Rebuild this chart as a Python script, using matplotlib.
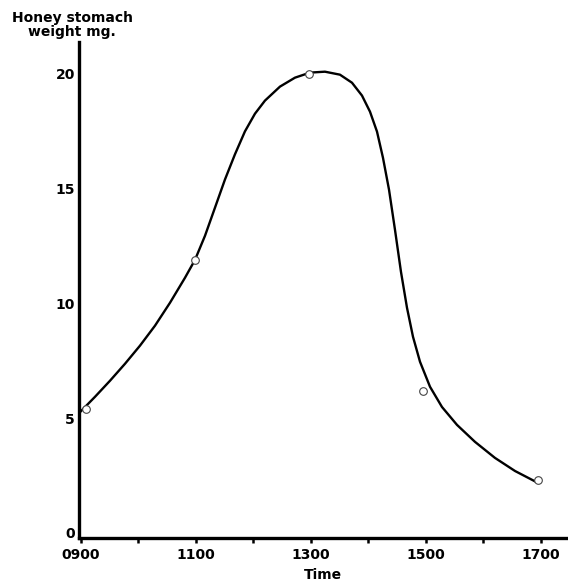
import matplotlib.pyplot as plt

# observed points (time in hours, honey stomach weight in mg)
obs_time = [9.08, 10.98, 12.97, 14.95, 16.95]
obs_weight = [5.4, 11.9, 20.0, 6.2, 2.3]

# hand drawn curve
curve_time = [8.97, 9.243, 9.504, 9.765, 10.026, 10.287, 10.548, 10.809, 10.983,
              11.157, 11.33, 11.504, 11.678, 11.852, 12.026, 12.2, 12.461, 12.722,
              12.983, 13.243, 13.504, 13.713, 13.887, 14.026, 14.148, 14.252, 14.357,
              14.461, 14.565, 14.67, 14.774, 14.896, 15.07, 15.278, 15.539, 15.852,
              16.2, 16.548, 16.948]
curve_weight = [5.23, 5.93, 6.63, 7.37, 8.16, 9.03, 10.03, 11.12, 11.9,
                12.95, 14.17, 15.4, 16.5, 17.5, 18.27, 18.84, 19.45, 19.84,
                20.06, 20.1, 19.97, 19.62, 19.06, 18.36, 17.49, 16.35, 14.96,
                13.21, 11.38, 9.81, 8.55, 7.46, 6.37, 5.49, 4.71, 3.97,
                3.27, 2.7, 2.18]

xticks = [9, 10, 11, 12, 13, 14, 15, 16, 17]
xtick_labels = ['0900', '', '1100', '', '1300', '', '1500', '', '1700']
yticks = [0, 5, 10, 15, 20]

plt.rcParams['font.family'] = ['DejaVu Sans']
plt.rcParams['font.weight'] = 'bold'

fig = plt.figure(figsize=(5.68, 5.83), dpi=100)
ax = fig.add_axes([0.139, 0.0772, 0.859, 0.851])

ax.plot(curve_time, curve_weight, color='black', linewidth=1.7,
        solid_capstyle='round', solid_joinstyle='round', zorder=2)
ax.plot(obs_time, obs_weight, linestyle='none', marker='o', markersize=5.5,
        markerfacecolor='white', markeredgecolor='#444444', markeredgewidth=0.8, zorder=3)

ax.set_xlim(8.965, 17.45)
ax.set_ylim(-0.22, 21.4)

for side in ['top', 'right']:
    ax.spines[side].set_visible(False)
for side in ['left', 'bottom']:
    ax.spines[side].set_linewidth(2.4)

ax.set_xticks(xticks)
ax.set_xticklabels(xtick_labels, fontsize=10, fontweight='bold')
ax.set_yticks(yticks)
ax.set_yticklabels([str(v) for v in yticks], fontsize=10, fontweight='bold')
ax.tick_params(axis='x', direction='out', length=3.5, width=1.8, pad=4)
ax.tick_params(axis='y', length=0, pad=3)

ax.set_xlabel('Time', fontsize=10, fontweight='bold', labelpad=4)
fig.text(0.127, 0.957, 'Honey stomach\nweight mg.', ha='center', va='center',
         fontsize=10, fontweight='bold', linespacing=1.0)

fig.savefig('out.png', dpi=100)
